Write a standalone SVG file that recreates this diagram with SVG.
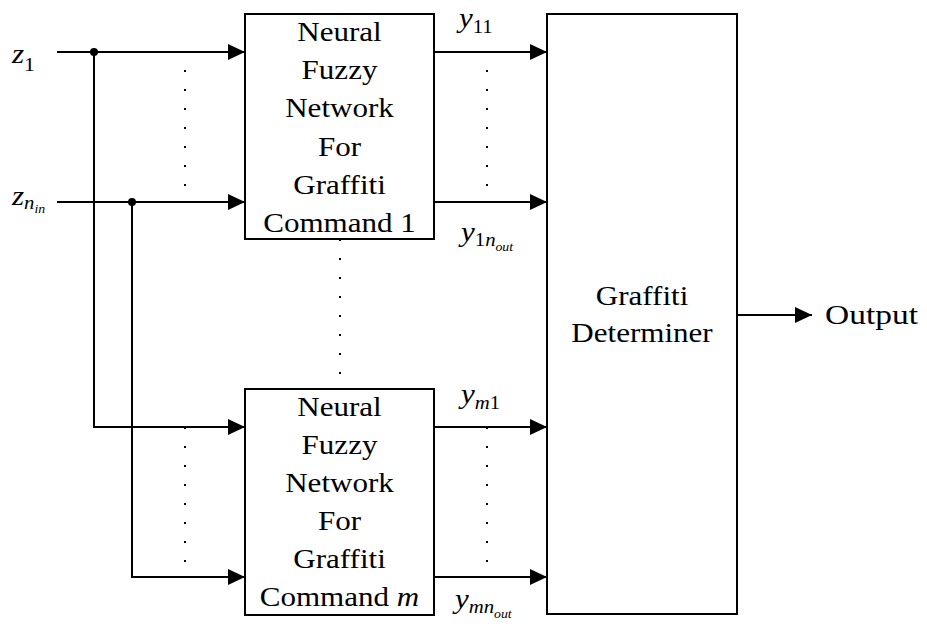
<svg xmlns="http://www.w3.org/2000/svg" width="927" height="630" viewBox="0 0 927 630">
<style>
text{font-family:"Liberation Serif","Times New Roman",serif;font-size:27px;fill:#000}
.it{font-style:italic}
.box{fill:#fff;stroke:#000;stroke-width:2}
.ln{fill:none;stroke:#000;stroke-width:2}
.dot{fill:#000}
.jn{fill:#000}
</style>
<defs>
<marker id="ah" viewBox="0 0 17 16" refX="17" refY="8" markerWidth="17" markerHeight="16" markerUnits="userSpaceOnUse" orient="auto">
<path d="M0,0 L17,8 L0,16 Z" fill="#000"/>
</marker>
<g id="dcol">
<rect x="-1" y="-1" width="2" height="2" class="dot"/>
<rect x="-1" y="18" width="2" height="2" class="dot"/>
<rect x="-1" y="37" width="2" height="2" class="dot"/>
<rect x="-1" y="56" width="2" height="2" class="dot"/>
<rect x="-1" y="75" width="2" height="2" class="dot"/>
<rect x="-1" y="94" width="2" height="2" class="dot"/>
<rect x="-1" y="113" width="2" height="2" class="dot"/>
<rect x="-1" y="132" width="2" height="2" class="dot"/>
</g>
</defs>

<g id="connectors">
<path class="ln" d="M57,52 H245" marker-end="url(#ah)"/>
<path class="ln" d="M57,202 H245" marker-end="url(#ah)"/>
<path class="ln" d="M94,52 V427 H245" marker-end="url(#ah)"/>
<path class="ln" d="M132,202 V577 H245" marker-end="url(#ah)"/>
<path class="ln" d="M434,52 H547" marker-end="url(#ah)"/>
<path class="ln" d="M434,202 H547" marker-end="url(#ah)"/>
<path class="ln" d="M434,427 H547" marker-end="url(#ah)"/>
<path class="ln" d="M434,577 H547" marker-end="url(#ah)"/>
<path class="ln" d="M737,315 H812" marker-end="url(#ah)"/>
<circle class="jn" cx="94" cy="52" r="4"/>
<circle class="jn" cx="132" cy="202" r="4"/>
</g>

<g id="dots">
<use href="#dcol" x="185" y="52"/>
<use href="#dcol" x="185" y="428"/>
<use href="#dcol" x="487" y="52"/>
<use href="#dcol" x="487" y="428"/>
<use href="#dcol" x="340" y="240"/>
</g>

<g id="nfn1">
<rect class="box" x="245" y="14" width="189" height="225"/>
<g transform="translate(339.5,0) scale(1.15,1)">
<text x="0" y="41" text-anchor="middle">Neural</text>
<text x="0" y="79" text-anchor="middle">Fuzzy</text>
<text x="0" y="117" text-anchor="middle">Network</text>
<text x="0" y="156" text-anchor="middle">For</text>
<text x="0" y="194" text-anchor="middle">Graffiti</text>
<text x="0" y="232" text-anchor="middle">Command 1</text>
</g>
</g>

<g id="nfnm">
<rect class="box" x="245" y="389" width="189" height="226"/>
<g transform="translate(339.5,0) scale(1.15,1)">
<text x="0" y="416" text-anchor="middle">Neural</text>
<text x="0" y="454" text-anchor="middle">Fuzzy</text>
<text x="0" y="492" text-anchor="middle">Network</text>
<text x="0" y="530" text-anchor="middle">For</text>
<text x="0" y="568" text-anchor="middle">Graffiti</text>
<text x="0" y="606" text-anchor="middle">Command <tspan class="it">m</tspan></text>
</g>
</g>

<g id="determiner">
<rect class="box" x="547" y="14" width="190" height="600"/>
<g transform="translate(642,0) scale(1.15,1)">
<text x="0" y="305" text-anchor="middle">Graffiti</text>
<text x="0" y="342" text-anchor="middle">Determiner</text>
</g>
</g>

<g id="output">
<text transform="translate(825,324) scale(1.24,1)">Output</text>
</g>

<g id="labels">
<text transform="translate(12,63) scale(1.15,1)"><tspan class="it">z</tspan><tspan font-size="19" dy="8">1</tspan></text>
<text transform="translate(12,205) scale(1.15,1)"><tspan class="it">z</tspan><tspan class="it" font-size="18" dy="4">n</tspan><tspan class="it" font-size="12" dy="4">in</tspan></text>
<text transform="translate(459,27) scale(1.15,1)"><tspan class="it">y</tspan><tspan font-size="18" dy="6">11</tspan></text>
<text transform="translate(461,241) scale(1.15,1)"><tspan class="it">y</tspan><tspan font-size="18" dy="5">1</tspan><tspan class="it" font-size="18">n</tspan><tspan class="it" font-size="12" dy="5">out</tspan></text>
<text transform="translate(461,403) scale(1.15,1)"><tspan class="it">y</tspan><tspan class="it" font-size="18" dy="6">m</tspan><tspan font-size="18">1</tspan></text>
<text transform="translate(455,608) scale(1.15,1)"><tspan class="it">y</tspan><tspan class="it" font-size="18" dy="5">mn</tspan><tspan class="it" font-size="12" dy="5">out</tspan></text>
</g>
</svg>
